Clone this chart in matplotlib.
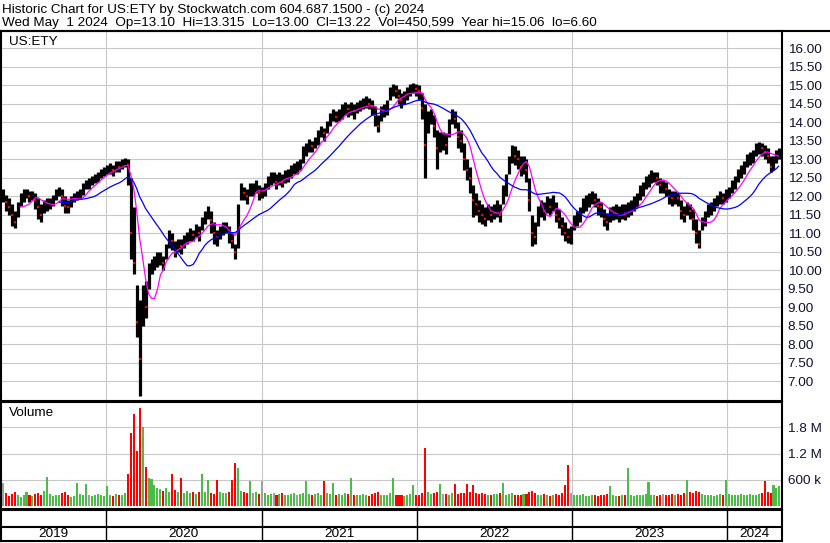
import numpy as np
import pandas as pd
import matplotlib
matplotlib.use('Agg')
import matplotlib.pyplot as plt
import matplotlib.dates as mdates
from matplotlib.lines import Line2D

plt.rcParams['font.family'] = ['Liberation Sans', 'DejaVu Sans']

# weekly bars, May 2019 .. May 1 2024
dates = list(pd.date_range('2019-05-03', '2024-04-26', freq='W-FRI')) + [pd.Timestamp('2024-05-01')]

close = [
    12.0, 11.85, 11.7, 11.5, 11.3, 11.7, 11.95, 12.05, 12.1, 12.0,
    12.05, 11.9, 11.7, 11.5, 11.75, 11.8, 11.85, 11.9, 12.1, 12.15,
    12.0, 11.75, 11.7, 11.9, 12.0, 12.05, 12.1, 12.25, 12.35, 12.35,
    12.45, 12.5, 12.55, 12.65, 12.7, 12.75, 12.8, 12.7, 12.85, 12.8,
    12.9, 13.0, 12.85, 11.0, 10.2, 8.6, 7.6, 9.2, 9.0, 10.0,
    10.1, 10.2, 10.3, 10.35, 10.2, 10.5, 10.9, 10.8, 10.5, 10.7,
    10.65, 10.8, 10.9, 11.0, 10.95, 11.1, 11.0, 11.3, 11.45, 11.6,
    11.35, 11.0, 10.9, 11.05, 11.15, 11.2, 11.0, 10.8, 10.5, 11.7,
    12.2, 12.1, 12.0, 12.2, 12.2, 12.3, 12.1, 12.1, 12.2, 12.4,
    12.5, 12.5, 12.4, 12.5, 12.4, 12.55, 12.6, 12.7, 12.8, 12.8,
    12.85, 13.2, 13.3, 13.4, 13.35, 13.45, 13.65, 13.8, 13.7, 13.9,
    14.1, 14.2, 14.15, 14.2, 14.3, 14.4, 14.35, 14.4, 14.3, 14.4,
    14.45, 14.5, 14.55, 14.5, 14.45, 14.2, 13.9, 14.3, 14.35, 14.4,
    14.8, 14.9, 14.85, 14.7, 14.6, 14.7, 14.8, 14.9, 15.0, 14.9,
    14.85, 14.4, 13.4, 14.0, 14.2, 13.9, 13.3, 13.5, 13.5, 13.4,
    13.9, 14.2, 14.1, 13.6, 13.5, 13.0, 12.7, 12.5, 11.9, 11.8,
    11.6, 11.5, 11.4, 11.6, 11.5, 11.6, 11.7, 11.5, 12.1, 12.3,
    12.9, 13.2, 13.1, 13.0, 12.8, 12.9, 12.7, 11.9, 11.0, 10.9,
    11.5, 11.7, 11.6, 11.8, 11.7, 11.9, 11.5, 11.4, 11.2, 11.0,
    10.9, 10.9, 11.3, 11.4, 11.5, 11.8, 11.85, 11.95, 12.0, 11.9,
    11.75, 11.7, 11.4, 11.3, 11.5, 11.55, 11.6, 11.5, 11.6, 11.55,
    11.65, 11.7, 11.8, 11.9, 12.1, 12.2, 12.4, 12.45, 12.55, 12.6,
    12.5, 12.3, 12.3, 12.2, 12.0, 11.95, 12.0, 11.95, 11.6, 11.5,
    11.7, 11.6, 11.4, 11.0, 10.7, 11.3, 11.4, 11.65, 11.7, 11.8,
    11.9, 12.0, 11.95, 12.05, 12.1, 12.3, 12.4, 12.6, 12.7, 12.8,
    13.0, 13.05, 13.1, 13.3, 13.35, 13.3, 13.2, 13.1, 12.8, 12.9,
    13.1, 13.22]

high = [
    12.2, 12.05, 11.95, 11.8, 11.6, 11.85, 12.1, 12.2, 12.2, 12.15,
    12.15, 12.1, 11.95, 11.8, 11.9, 11.95, 11.95, 12.05, 12.2, 12.25,
    12.2, 12.0, 11.9, 12.0, 12.1, 12.15, 12.2, 12.35, 12.45, 12.5,
    12.55, 12.6, 12.65, 12.75, 12.8, 12.85, 12.9, 12.85, 12.95, 12.95,
    13.0, 13.05, 13.0, 12.5, 11.7, 9.6, 9.2, 9.6, 9.7, 10.2,
    10.3, 10.4, 10.5, 10.5, 10.4, 10.7, 11.1, 11.0, 10.8, 10.85,
    10.85, 10.95, 11.05, 11.15, 11.1, 11.25, 11.2, 11.45, 11.6, 11.75,
    11.6, 11.3, 11.1, 11.2, 11.3, 11.3, 11.2, 11.0, 10.7, 11.8,
    12.35, 12.25, 12.2, 12.35, 12.35, 12.45, 12.3, 12.25, 12.35, 12.55,
    12.65, 12.65, 12.6, 12.65, 12.6, 12.7, 12.75, 12.85, 12.9, 12.95,
    13.0, 13.35, 13.45, 13.55, 13.5, 13.6, 13.8, 13.9, 13.85, 14.05,
    14.25, 14.35, 14.3, 14.35, 14.5, 14.55, 14.5, 14.55, 14.5, 14.55,
    14.6, 14.65, 14.7, 14.65, 14.6, 14.45, 14.2, 14.45, 14.5, 14.6,
    14.95, 15.05, 15.0, 14.9, 14.8, 14.85, 14.95, 15.05, 15.06, 15.05,
    15.0, 14.8, 14.5, 14.3, 14.35, 14.2, 13.8, 13.75, 13.75, 13.7,
    14.1, 14.35, 14.3, 14.0, 13.8, 13.45, 13.0, 12.8, 12.3, 12.1,
    11.9, 11.8, 11.7, 11.8, 11.75, 11.8, 11.9, 11.8, 12.3, 12.6,
    13.1, 13.4, 13.35, 13.25, 13.1, 13.1, 13.0, 12.5, 11.5, 11.3,
    11.75, 11.9, 11.85, 12.0, 11.95, 12.05, 11.85, 11.65, 11.45, 11.3,
    11.15, 11.2, 11.5, 11.6, 11.7, 11.95, 12.05, 12.1, 12.15, 12.1,
    11.95, 11.85, 11.65, 11.55, 11.7, 11.75, 11.8, 11.75, 11.8, 11.8,
    11.85, 11.9, 12.0, 12.1, 12.3, 12.4, 12.55, 12.6, 12.7, 12.65,
    12.65, 12.5, 12.45, 12.4, 12.2, 12.15, 12.15, 12.1, 11.9, 11.75,
    11.85, 11.8, 11.65, 11.4, 11.1, 11.45, 11.6, 11.8, 11.85, 11.95,
    12.05, 12.15, 12.1, 12.2, 12.25, 12.45, 12.55, 12.75, 12.85, 12.95,
    13.15, 13.2, 13.25, 13.45, 13.48, 13.45, 13.4, 13.3, 13.1, 13.1,
    13.25, 13.32]

low = [
    11.85, 11.6, 11.5, 11.2, 11.15, 11.45, 11.75, 11.85, 11.95, 11.85,
    11.9, 11.65, 11.4, 11.3, 11.55, 11.6, 11.65, 11.75, 11.9, 12.0,
    11.75, 11.55, 11.55, 11.7, 11.85, 11.9, 11.95, 12.05, 12.2, 12.2,
    12.3, 12.35, 12.4, 12.5, 12.55, 12.6, 12.6, 12.55, 12.65, 12.65,
    12.75, 12.8, 12.3, 10.3, 9.9, 8.2, 6.6, 8.5, 8.7, 9.5,
    9.9, 10.0, 10.1, 10.15, 10.0, 10.3, 10.6, 10.55, 10.35, 10.5,
    10.45, 10.6, 10.7, 10.8, 10.8, 10.9, 10.8, 11.1, 11.25, 11.4,
    11.0, 10.7, 10.65, 10.85, 10.95, 11.0, 10.75, 10.6, 10.3, 10.6,
    11.9, 11.9, 11.8, 12.0, 12.0, 12.1, 11.9, 11.95, 12.0, 12.2,
    12.3, 12.35, 12.2, 12.3, 12.25, 12.35, 12.4, 12.5, 12.6, 12.6,
    12.7, 12.9, 13.1, 13.2, 13.2, 13.3, 13.4, 13.6, 13.5, 13.7,
    13.9, 14.05, 14.0, 14.05, 14.1, 14.2, 14.15, 14.2, 14.1, 14.25,
    14.3, 14.35, 14.4, 14.35, 14.2, 13.9, 13.75, 14.05, 14.15, 14.2,
    14.6, 14.7, 14.65, 14.5, 14.4, 14.5, 14.6, 14.7, 14.8, 14.7,
    14.6, 14.1, 12.5, 13.7, 13.95, 13.6, 12.75, 13.2, 13.25, 13.15,
    13.6, 13.95, 13.85, 13.3, 13.2, 12.7, 12.45, 12.1, 11.45, 11.5,
    11.3, 11.25, 11.2, 11.35, 11.3, 11.4, 11.45, 11.3, 11.8, 12.0,
    12.6, 12.9, 12.85, 12.75, 12.55, 12.6, 12.4, 11.6, 10.65, 10.7,
    11.2, 11.45, 11.35, 11.55, 11.5, 11.6, 11.3, 11.15, 10.95, 10.8,
    10.73, 10.7, 11.1, 11.2, 11.3, 11.55, 11.6, 11.7, 11.8, 11.7,
    11.5, 11.45, 11.2, 11.1, 11.3, 11.35, 11.4, 11.3, 11.4, 11.35,
    11.45, 11.5, 11.6, 11.7, 11.9, 12.0, 12.2, 12.25, 12.35, 12.4,
    12.3, 12.1, 12.1, 12.0, 11.8, 11.75, 11.8, 11.75, 11.4, 11.3,
    11.5, 11.4, 11.1, 10.75, 10.6, 11.1, 11.2, 11.45, 11.5, 11.6,
    11.75, 11.8, 11.8, 11.85, 11.95, 12.1, 12.2, 12.4, 12.5, 12.6,
    12.8, 12.85, 12.9, 13.1, 13.15, 13.1, 13.0, 12.9, 12.65, 12.7,
    12.9, 13.0]

# volume in thousands of shares
volume = [
    520, 300, 220, 280, 330, 250, 200, 240, 310, 260,
    230, 270, 300, 250, 340, 670, 280, 220, 260, 240,
    300, 330, 250, 200, 230, 520, 270, 240, 500, 260,
    220, 240, 280, 260, 230, 450, 250, 220, 270, 240,
    260, 300, 740, 1670, 2100, 1250, 2250, 1800, 900, 650,
    620, 480, 400, 380, 350, 420, 330, 740, 360, 320,
    650, 300, 340, 290, 310, 280, 320, 740, 330, 600,
    300, 280, 600, 310, 290, 300, 330, 600, 980, 870,
    350, 330, 300, 560, 290, 320, 280, 570, 300, 260,
    280, 300, 250, 270, 290, 240, 260, 280, 300, 260,
    280, 300, 560, 270, 250, 280, 300, 260, 560, 290,
    270, 530, 250, 280, 260, 300, 270, 630, 250, 240,
    260, 280, 250, 230, 270, 300, 320, 250, 240, 260,
    300, 630, 250, 240, 260, 230, 250, 280, 480, 260,
    250, 300, 1320, 330, 280, 300, 320, 500, 280, 270,
    260, 300, 500, 280, 300, 290, 500, 310, 480, 300,
    280, 290, 270, 260, 250, 280, 270, 300, 520, 260,
    280, 300, 260, 250, 240, 270, 280, 330, 350, 300,
    260, 240, 270, 250, 230, 260, 280, 250, 300, 480,
    940, 300, 260, 240, 250, 270, 230, 220, 250, 240,
    230, 260, 250, 280, 460, 240, 230, 220, 250, 240,
    870, 250, 230, 240, 260, 250, 280, 540, 260, 240,
    230, 250, 270, 240, 260, 280, 250, 270, 260, 300,
    600, 330, 290, 350, 320, 280, 260, 250, 240, 230,
    250, 270, 260, 600, 280, 260, 250, 240, 270, 250,
    260, 280, 240, 250, 270, 300, 560, 320, 290, 480,
    400, 451]

years = [2019, 2020, 2021, 2022, 2023, 2024]
price_ticks = np.arange(7.0, 16.01, 0.5)
vol_ticks = [600000, 1200000, 1800000]
vol_labels = ['600 k', '1.2 M', '1.8 M']

header1 = 'Historic Chart for US:ETY by Stockwatch.com 604.687.1500 - (c) 2024'
header2 = ('Wed May  1 2024  Op=13.10  Hi=13.315  Lo=13.00  Cl=13.22  '
           'Vol=450,599  Year hi=15.06  lo=6.60')

close = np.array(close)
high = np.array(high)
low = np.array(low)
vol = np.array(volume) * 1000.0
xs = mdates.date2num(dates)
ma_fast = pd.Series(close).rolling(7).mean()
ma_slow = pd.Series(close).rolling(20).mean()
chg = np.diff(close, prepend=close[0])

W, H = 830, 543
def box(x0, y0, x1, y1):
    return [x0 / W, 1 - y1 / H, (x1 - x0) / W, (y1 - y0) / H]

fig = plt.figure(figsize=(W / 100, H / 100), dpi=100)
ax = fig.add_axes(box(1, 31, 782, 401))
axv = fig.add_axes(box(1, 402, 782, 509))
axd = fig.add_axes(box(1, 510, 782, 541))

xmin = mdates.date2num(pd.Timestamp('2019-04-29'))
xmax = mdates.date2num(pd.Timestamp('2024-05-09'))
bounds = [mdates.date2num(pd.Timestamp(f'{y}-01-01')) for y in years[1:]]
grid_c = '#c8c8c8'
txt_c = '#101030'

# price panel
ax.vlines(xs, low, high, color='black', lw=2.3)
dn = chg < 0
ax.plot(xs[dn], close[dn], 's', color='red', ms=1.8, mew=0)
ax.plot(xs, ma_fast, color='#ff00ff', lw=0.9)
ax.plot(xs, ma_slow, color='#0000ff', lw=0.9)
ax.set_xlim(xmin, xmax)
ax.set_ylim(6.47, 16.47)
ax.set_yticks(price_ticks)
ax.set_yticklabels([f'{v:.2f}' for v in price_ticks])
ax.set_xticks(bounds)
ax.tick_params(axis='x', length=0, labelbottom=False)
ax.text(8 / 781, 1 - 11 / 370, 'US:ETY', transform=ax.transAxes,
        fontsize=9.7, va='center', ha='left')

# volume panel
cols = np.where(chg > 0, '#4cbb47', np.where(chg < 0, '#ff0000', '#a0a0a0'))
axv.bar(xs, vol, width=4.8, color=cols, lw=0)
axv.set_xlim(xmin, xmax)
axv.set_ylim(-70000, 2380000)
axv.set_yticks(vol_ticks)
axv.set_yticklabels(vol_labels)
axv.set_xticks(bounds)
axv.tick_params(axis='x', length=0, labelbottom=False)
axv.text(8 / 781, 1 - 11 / 107, 'Volume', transform=axv.transAxes,
         fontsize=9.7, va='center', ha='left')

for a in (ax, axv):
    a.yaxis.tick_right()
    a.tick_params(axis='y', length=0, pad=4, labelsize=9.7, labelcolor=txt_c)
    a.grid(True, color=grid_c, lw=0.8)
    a.set_axisbelow(True)

# date band
axd.set_xlim(xmin, xmax)
axd.set_ylim(0, 31)
axd.axhline(14, color='black', lw=1.5)
for b in bounds:
    axd.axvline(b, color='black', lw=1.0)
edges = [xmin] + bounds + [mdates.date2num(pd.Timestamp('2024-05-08'))]
for y, l, r in zip(years, edges[:-1], edges[1:]):
    axd.text((l + r) / 2, 7, str(y), ha='center', va='center', fontsize=9.7)
axd.set_xticks([])
axd.set_yticks([])

for a in (ax, axv, axd):
    for s in a.spines.values():
        s.set_linewidth(1.5)
        s.set_color('black')

fig.add_artist(Line2D([0, 1], [1 - 30.5 / H] * 2, color='black', lw=1.5,
                      transform=fig.transFigure))
fig.text(2 / W, 1 - 9.5 / H, header1, fontsize=9.7, va='center', ha='left')
fig.text(2 / W, 1 - 23 / H, header2, fontsize=9.7, va='center', ha='left')

fig.savefig('out.png', dpi=100)
